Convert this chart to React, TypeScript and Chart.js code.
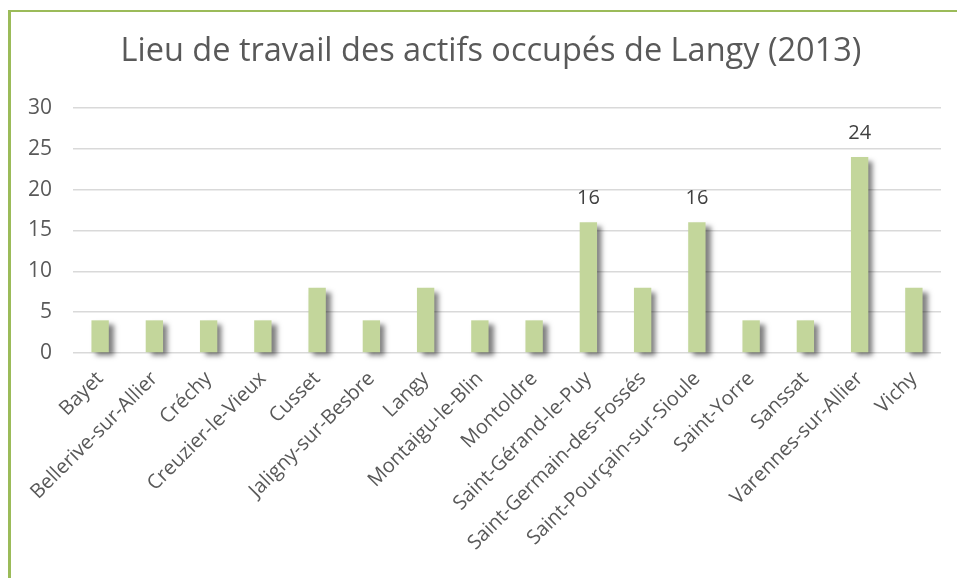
import React, { useEffect, useRef } from "react";
import { Chart, registerables } from "chart.js";

Chart.register(...registerables);

const categories = [
  "Bayet",
  "Bellerive-sur-Allier",
  "Créchy",
  "Creuzier-le-Vieux",
  "Cusset",
  "Jaligny-sur-Besbre",
  "Langy",
  "Montaigu-le-Blin",
  "Montoldre",
  "Saint-Gérand-le-Puy",
  "Saint-Germain-des-Fossés",
  "Saint-Pourçain-sur-Sioule",
  "Saint-Yorre",
  "Sanssat",
  "Varennes-sur-Allier",
  "Vichy",
];
const values = [4, 4, 4, 4, 8, 4, 8, 4, 4, 16, 8, 16, 4, 4, 24, 8];
const shownLabels = ["", "", "", "", "", "", "", "", "", "16", "", "16", "", "", "24", ""];
const yTicks = [0, 5, 10, 15, 20, 25, 30];
const title = "Lieu de travail des actifs occupés de Langy (2013)";

const FONT = "'Open Sans', sans-serif";
const W = 960;
const H = 566;

const shadowPlugin = {
  id: "barShadow",
  beforeDatasetsDraw(chart: any) {
    const ctx = chart.ctx;
    ctx.save();
    ctx.shadowColor = "rgba(0,0,0,0.5)";
    ctx.shadowBlur = 5;
    ctx.shadowOffsetX = 5;
    ctx.shadowOffsetY = 4;
  },
  afterDatasetsDraw(chart: any) {
    const ctx = chart.ctx;
    ctx.restore();
    const meta = chart.getDatasetMeta(0);
    ctx.save();
    ctx.fillStyle = "#404040";
    ctx.font = `20px ${FONT}`;
    ctx.textAlign = "center";
    ctx.textBaseline = "middle";
    meta.data.forEach((bar: any, i: number) => {
      const t = shownLabels[i];
      if (t) ctx.fillText(t, bar.x, bar.y - 24);
    });
    ctx.restore();
  },
};

export default function App() {
  const ref = useRef<HTMLCanvasElement>(null);
  useEffect(() => {
    if (!ref.current) return;
    const chart = new Chart(ref.current, {
      type: "bar",
      data: {
        labels: categories,
        datasets: [
          {
            data: values,
            backgroundColor: "#C3D69B",
            borderWidth: 0,
            categoryPercentage: 1,
            barPercentage: 0.32,
            clip: false as any,
          },
        ],
      },
      plugins: [shadowPlugin],
      options: {
        responsive: false,
        animation: false,
        devicePixelRatio: 1,
        layout: { padding: 0 },
        plugins: {
          legend: { display: false },
          tooltip: { enabled: false },
          title: {
            display: true,
            text: title,
            color: "#595959",
            font: { family: FONT, size: 32.5, weight: "normal", lineHeight: 1.2 },
            padding: { top: 20, bottom: 37 },
          },
        },
        scales: {
          x: {
            grid: { display: false },
            border: { display: false },
            ticks: {
              color: "#595959",
              font: { family: FONT, size: 20 },
              maxRotation: 45,
              minRotation: 45,
              autoSkip: false,
              padding: 6,
            },
            afterFit(scale: any) {
              scale.height = 12 + H - 353;
            },
          },
          y: {
            min: 0,
            max: 30,
            afterBuildTicks(scale: any) {
              scale.ticks = yTicks.map((v) => ({ value: v }));
            },
            grid: { color: "#D9D9D9", lineWidth: 1.5, drawTicks: false },
            border: { display: false },
            ticks: {
              color: "#595959",
              font: { family: FONT, size: 21 },
              padding: 21,
            },
            afterFit(scale: any) {
              scale.width = 62;
            },
          },
          yr: {
            position: "right",
            display: true,
            grid: { display: false },
            border: { display: false },
            ticks: { display: false },
            afterFit(scale: any) {
              scale.width = 30;
            },
          },
        },
      } as any,
    });
    return () => chart.destroy();
  }, []);

  return (
    <div
      style={{
        position: "fixed",
        left: 0,
        top: 0,
        width: 957,
        height: 578,
        overflow: "hidden",
        background: "#fff",
      }}
    >
      <div
        style={{
          position: "absolute",
          left: 8,
          top: 10,
          width: 980,
          height: 600,
          borderLeft: "3px solid #9BBB59",
          borderTop: "2px solid #9BBB59",
        }}
      >
        <canvas
          ref={ref}
          width={W}
          height={H}
          style={{ position: "absolute", left: 0, top: 0, width: W, height: H }}
        />
      </div>
    </div>
  );
}
